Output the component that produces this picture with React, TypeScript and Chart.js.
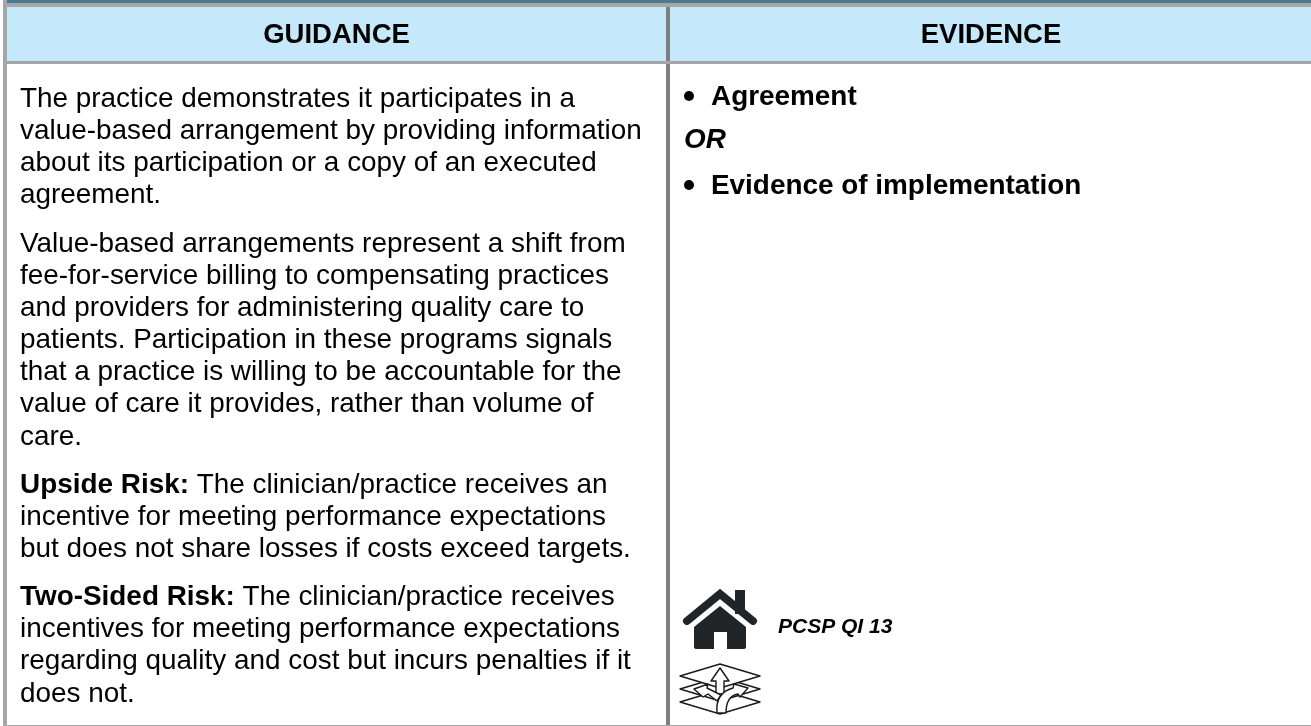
import React, { useEffect, useRef } from "react";
import { Chart, registerables } from "chart.js";

Chart.register(...registerables);

const headers = ["GUIDANCE", "EVIDENCE"];
const para1 = [
  "The practice demonstrates it participates in a",
  "value-based arrangement by providing information",
  "about its participation or a copy of an executed",
  "agreement.",
];
const para2 = [
  "Value-based arrangements represent a shift from",
  "fee-for-service billing to compensating practices",
  "and providers for administering quality care to",
  "patients. Participation in these programs signals",
  "that a practice is willing to be accountable for the",
  "value of care it provides, rather than volume of",
  "care.",
];
const para3Lead = "Upside Risk:";
const para3 = [
  " The clinician/practice receives an",
  "incentive for meeting performance expectations",
  "but does not share losses if costs exceed targets.",
];
const para4Lead = "Two-Sided Risk:";
const para4 = [
  " The clinician/practice receives",
  "incentives for meeting performance expectations",
  "regarding quality and cost but incurs penalties if it",
  "does not.",
];
const evidenceItems = ["Agreement", "OR", "Evidence of implementation"];
const reference = "PCSP QI 13";

const FONT = '"Liberation Sans", Arial, sans-serif';

const tablePlugin = {
  id: "tablePlugin",
  beforeDraw(chart: any) {
    const c = chart.ctx as CanvasRenderingContext2D;
    const { x, y } = chart.scales;
    const rect = (x0: number, y0: number, x1: number, y1: number, col: string) => {
      c.fillStyle = col;
      const px = x.getPixelForValue(x0);
      const py = y.getPixelForValue(y0);
      c.fillRect(px, py, x.getPixelForValue(x1) - px, y.getPixelForValue(y1) - py);
    };
    rect(0, 0, 1311, 726, "#ffffff");
    rect(7, 7, 1311, 61, "#c5e8fb");
    rect(666, 7, 670, 726, "#7f7f7f");
    rect(7, 61, 1311, 64, "#a6a6a6");
    rect(3, 0, 7, 726, "#a6a6a6");
    rect(7, 725, 1311, 726, "#a6a6a6");
    rect(7, 3, 1311, 7, "#a6a6a6");
    rect(7, 0, 1311, 3, "#4d7a91");

    c.textBaseline = "alphabetic";
    c.textAlign = "center";
    c.fillStyle = "#000";
    c.font = `bold 27.5px ${FONT}`;
    c.fillText(headers[0], 336.5, 43);
    c.fillText(headers[1], 991, 43);

    c.textAlign = "left";
    const SIZE = 27.9;
    const text = (s: string, px: number, py: number, style = "", size = SIZE) => {
      c.font = `${style} ${size}px ${FONT}`;
      c.fillText(s, px, py);
      return c.measureText(s).width;
    };
    let by = 107;
    const LH = 32.15;
    const GAP = 16;
    const X = 20;
    para1.forEach((s) => { text(s, X, by); by += LH; });
    by += GAP;
    para2.forEach((s) => { text(s, X, by); by += LH; });
    by += GAP;
    [para3, para4].forEach((p, k) => {
      const w = text(k ? para4Lead : para3Lead, X, by, "bold");
      p.forEach((s, i) => { text(s, i ? X : X + w, by); by += LH; });
      by += GAP;
    });

    c.beginPath();
    c.arc(689, 96, 5, 0, Math.PI * 2);
    c.fill();
    c.beginPath();
    c.arc(689, 185, 5, 0, Math.PI * 2);
    c.fill();
    text(evidenceItems[0], 711, 105, "bold");
    text(evidenceItems[1], 684, 148, "italic bold");
    text(evidenceItems[2], 711, 194, "bold");
    text(reference, 778, 633, "italic bold", 21);

    // house icon
    c.save();
    c.translate(720, 620);
    const dark = "#212529";
    c.strokeStyle = dark;
    c.fillStyle = dark;
    c.lineWidth = 8;
    c.lineCap = "round";
    c.lineJoin = "miter";
    c.beginPath();
    c.moveTo(-33, 1);
    c.lineTo(0, -26);
    c.lineTo(33, 1);
    c.stroke();
    c.fillRect(15, -30, 10, 24);
    c.fill(new Path2D("M0 -14 L26 7 L26 27 Q26 29 24 29 L7 29 L7 12 L-6 12 L-6 29 L-24 29 Q-26 29 -26 27 L-26 7 Z"));
    c.restore();

    // layered-arrows icon
    c.save();
    c.translate(720, 688);
    c.strokeStyle = "#1a1a1a";
    c.fillStyle = "#fff";
    c.lineWidth = 1.4;
    c.lineJoin = "round";
    c.lineCap = "butt";
    [14, 1, -12].forEach((dy) => {
      c.beginPath();
      c.moveTo(-40, dy);
      c.lineTo(0, dy - 12);
      c.lineTo(40, dy);
      c.lineTo(0, dy + 12);
      c.closePath();
      c.fill();
      c.stroke();
    });
    const shape = (d: string) => {
      const p = new Path2D(d);
      c.fill(p);
      c.stroke(p);
    };
    shape("M-4 6 L-4 -7 L-9 -7 L0 -20 L9 -7 L4 -7 L4 6 Z");
    shape("M-26 1 L-12 -4 L-13 0 L1 7 L-3 13 L-12 6 L-17 9 Z");
    shape("M-3 25 Q-5 5 13 0 L14 -4 L28 0 L20 9 L18 6 Q6 8 6 25 Z");
    c.restore();
  },
};

export default function App() {
  const ref = useRef<HTMLCanvasElement>(null);
  useEffect(() => {
    document.body.style.margin = "0";
    document.body.style.background = "#fff";
    const chart = new Chart(ref.current!, {
      type: "scatter",
      data: { datasets: [{ data: [], label: "" }] },
      options: {
        animation: false,
        responsive: false,
        layout: { padding: 0 },
        plugins: { legend: { display: false }, tooltip: { enabled: false }, title: { display: false } },
        scales: {
          x: { type: "linear", min: 0, max: 1311, display: false },
          y: { type: "linear", min: 0, max: 726, reverse: true, display: false },
        },
      },
      plugins: [tablePlugin as any],
    });
    return () => chart.destroy();
  }, []);
  return <canvas ref={ref} width={1311} height={726} style={{ display: "block" }} />;
}
